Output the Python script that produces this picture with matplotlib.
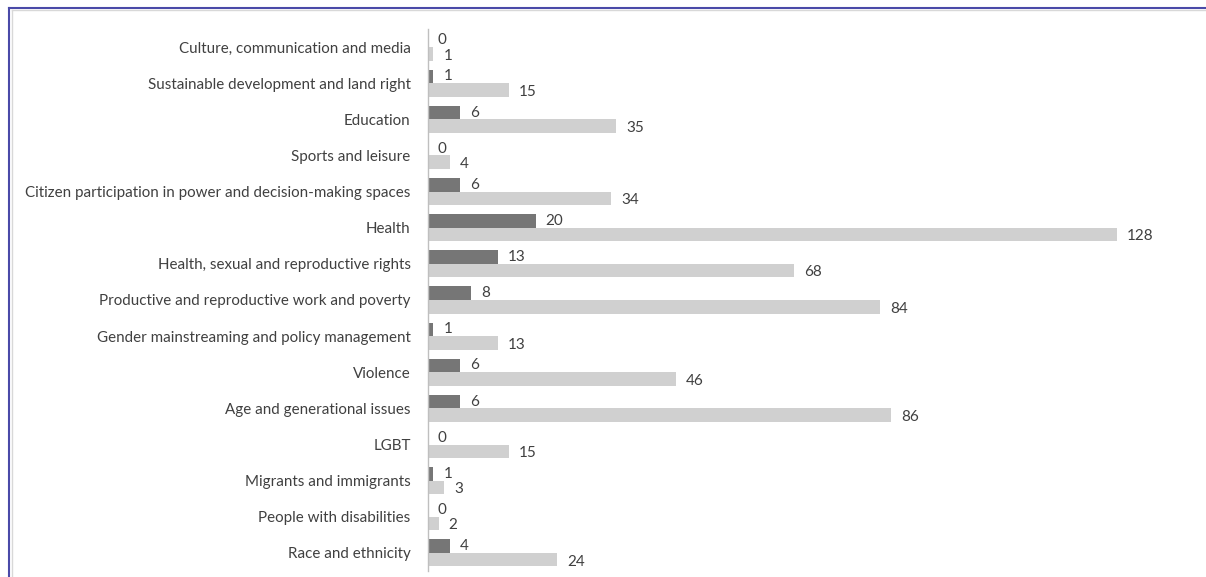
import matplotlib.pyplot as plt
import numpy as np
from matplotlib.lines import Line2D

# categories, top to bottom
categories = [
    "Culture, communication and media",
    "Sustainable development and land right",
    "Education",
    "Sports and leisure",
    "Citizen participation in power and decision-making spaces",
    "Health",
    "Health, sexual and reproductive rights",
    "Productive and reproductive work and poverty",
    "Gender mainstreaming and policy management",
    "Violence",
    "Age and generational issues",
    "LGBT",
    "Migrants and immigrants",
    "People with disabilities",
    "Race and ethnicity",
]
dark_vals = [0, 1, 6, 0, 6, 20, 13, 8, 1, 6, 6, 0, 1, 0, 4]
light_vals = [1, 15, 35, 4, 34, 128, 68, 84, 13, 46, 86, 15, 3, 2, 24]

W, H = 1206, 577
fig = plt.figure(figsize=(W / 100, H / 100), dpi=100)
plt.rcParams['font.family'] = ['Lato', 'DejaVu Sans']

# axes placed in pixels
x0, x1 = 428, 1190
top, bot = 29, 571
ax = fig.add_axes([x0 / W, (H - bot) / H, (x1 - x0) / W, (bot - top) / H])

y = np.arange(len(categories))
bh = 0.375
ax.barh(y - bh / 2, dark_vals, height=bh, color='#767676')
ax.barh(y + bh / 2, light_vals, height=bh, color='#d0d0d0')

scale = 128 / (1117 - 428)
ax.set_xlim(0, (x1 - x0) * scale)
ax.set_ylim(len(categories) - 0.5, -0.5)

for i in range(len(categories)):
    ax.text(dark_vals[i] + 10 * scale, y[i] - bh / 2, str(dark_vals[i]),
            va='center', ha='left', fontsize=11, color='#404040')
    ax.text(light_vals[i] + 10 * scale, y[i] + bh / 2 + 0.05, str(light_vals[i]),
            va='center', ha='left', fontsize=11, color='#404040')

ax.set_yticks(y)
ax.set_yticklabels(categories, fontsize=10.9, color='#404040')
ax.tick_params(axis='y', length=0, pad=12.5)
ax.set_xticks([])
for s in ['top', 'right', 'bottom']:
    ax.spines[s].set_visible(False)
ax.spines['left'].set_color('#bfbfbf')
ax.spines['left'].set_linewidth(1)

# frame lines around the chart
fig.add_artist(Line2D([8.5 / W, 1], [1 - 7.5 / H, 1 - 7.5 / H], color='#4a4aa8', lw=1.5))
fig.add_artist(Line2D([8.5 / W, 8.5 / W], [0, 1 - 7.5 / H], color='#4a4aa8', lw=1.5))
fig.add_artist(Line2D([12 / W, 12 / W], [0, 1 - 10 / H], color='#d8d8d8', lw=1))
fig.add_artist(Line2D([12 / W, 1], [1 - 10 / H, 1 - 10 / H], color='#d8d8d8', lw=1))

fig.savefig('out.png', dpi=100)
